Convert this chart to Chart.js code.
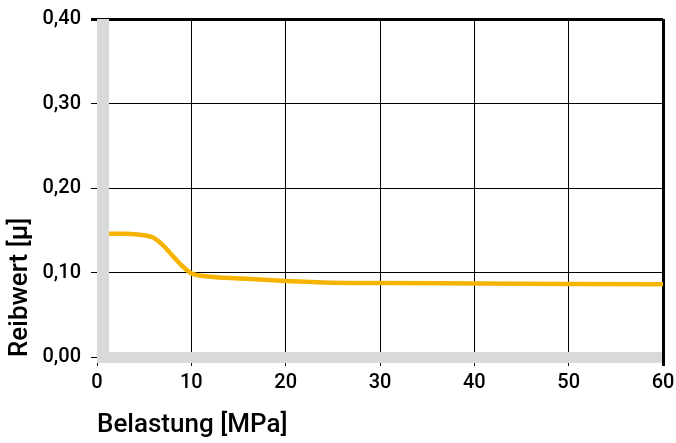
<!DOCTYPE html>
<html>
<head>
<meta charset="utf-8">
<script src="https://cdn.jsdelivr.net/npm/chart.js@4"></script>
<style>
  html, body { margin: 0; padding: 0; background: #fff; }
  #wrap { width: 676px; height: 443px; }
</style>
</head>
<body>
<div id="wrap"><canvas id="chart"></canvas></div>
<script>
// values
const belastung = [0, 3, 5, 6, 7, 8, 9, 10, 12, 15, 20, 25, 30, 40, 50, 60];
const reibwert = [0.146, 0.146, 0.144, 0.141, 0.132, 0.120, 0.108, 0.099, 0.095, 0.093, 0.090, 0.088, 0.0875, 0.087, 0.0865, 0.086];
const xTickLabels = ['0', '10', '20', '30', '40', '50', '60'];
const yTickLabels = ['0,00', '0,10', '0,20', '0,30', '0,40'];

const grey = '#d9d9db';
const fontFamily = 'Roboto, Arial, sans-serif';

// grey bands along both zero axes
const axisBands = {
  id: 'axisBands',
  afterDatasetsDraw(chart) {
    const { ctx, chartArea, scales: { x, y } } = chart;
    const x0 = x.getPixelForValue(0);
    const y0 = y.getPixelForValue(0);
    ctx.save();
    ctx.fillStyle = grey;
    ctx.fillRect(x0, chartArea.top, 12, y0 + 6 - chartArea.top);
    ctx.fillRect(x0, y0 - 5, chartArea.right - 1 - x0, 11);
    ctx.restore();
  }
};

const ctx = document.getElementById('chart').getContext('2d');
new Chart(ctx, {
  type: 'line',
  data: {
    datasets: [{
      label: 'Reibwert',
      data: belastung.map((b, i) => ({ x: b, y: reibwert[i] })),
      borderColor: '#f6b400',
      borderWidth: 4.5,
      pointRadius: 0,
      fill: false,
      cubicInterpolationMode: 'monotone'
    }]
  },
  options: {
    responsive: true,
    maintainAspectRatio: false,
    animation: false,
    layout: { padding: { top: 19, right: 13, left: 0, bottom: 0 } },
    plugins: { legend: { display: false }, tooltip: { enabled: false } },
    scales: {
      x: {
        type: 'linear',
        min: 0,
        max: 60,
        afterFit: s => { s.height = 86; s.paddingLeft = 0; s.paddingRight = 0; },
        border: { display: false },
        grid: {
          color: c => c.tick && c.tick.value === 0 ? 'rgba(0,0,0,0)' : '#000',
          tickColor: '#000',
          lineWidth: c => c.tick && c.tick.value === 60 ? 3 : 1,
          tickLength: 9
        },
        ticks: {
          stepSize: 10,
          color: '#000',
          padding: 5,
          maxRotation: 0,
          font: { family: fontFamily, size: 20, weight: 500 },
          callback: (v, i) => xTickLabels[i]
        },
        title: {
          display: true,
          text: 'Belastung [MPa]',
          align: 'start',
          color: '#000',
          font: { family: fontFamily, size: 26, weight: 500 },
          padding: { top: 0, bottom: 2 }
        }
      },
      y: {
        min: 0,
        max: 0.4,
        afterFit: s => { s.width = 97; s.paddingTop = 0; s.paddingBottom = 0; },
        border: { display: false },
        grid: {
          color: '#000',
          lineWidth: c => c.tick && c.tick.value >= 0.4 ? 3 : 1,
          tickLength: 6
        },
        ticks: {
          stepSize: 0.1,
          color: '#000',
          padding: 10,
          font: { family: fontFamily, size: 20, weight: 500 },
          callback: (v, i) => yTickLabels[i]
        },
        title: {
          display: true,
          text: 'Reibwert [µ]',
          align: 'start',
          color: '#000',
          font: { family: fontFamily, size: 26, weight: 500 },
          padding: { top: 5, bottom: 0 }
        }
      }
    }
  },
  plugins: [axisBands]
});
</script>
</body>
</html>
